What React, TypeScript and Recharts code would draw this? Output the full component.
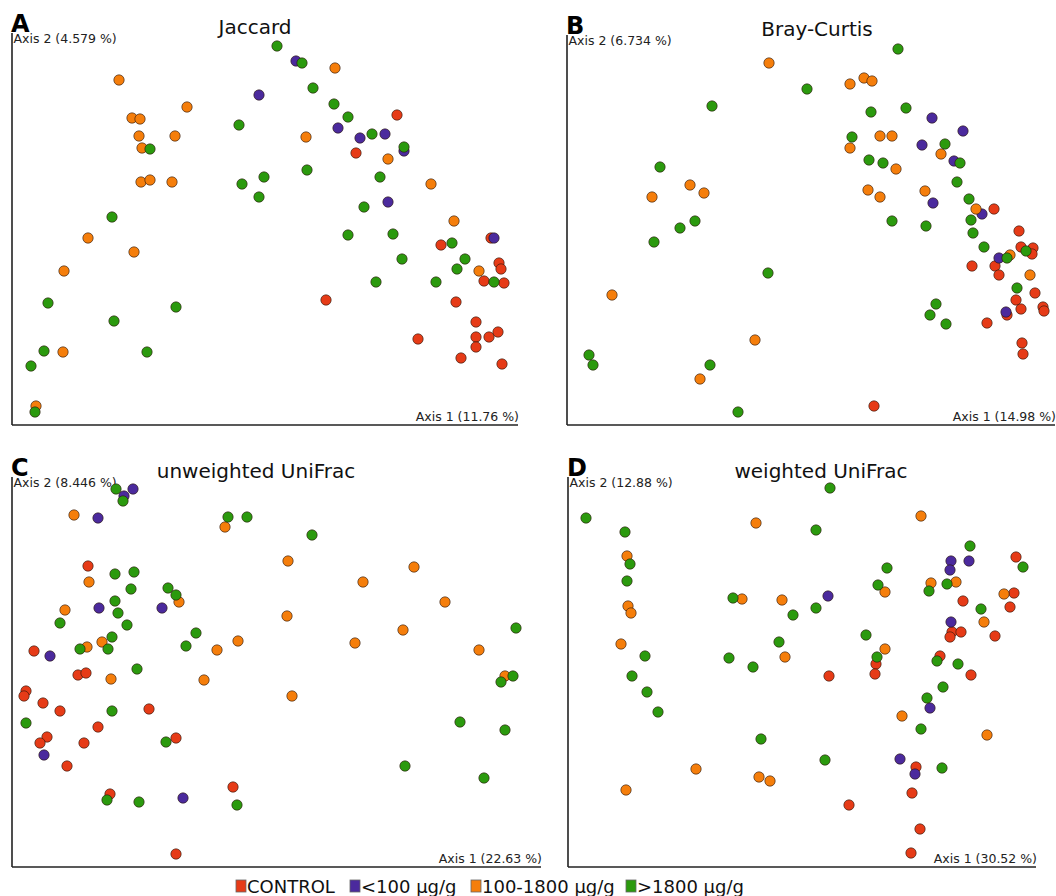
import { Scatter, ScatterChart, XAxis, YAxis } from "recharts"

// PCoA scores, in plot units (origin at the axes corner)
const jaccardControl = [[385,310],[344,272],[429,180],[479,187],[487,162],[489,156],[472,144],[492,142],[314,125],[444,123],[464,103],[486,93],[464,88],[477,88],[406,86],[464,78],[449,67],[490,61]]
const jaccardLow = [[247,330],[284,364],[326,297],[348,287],[373,291],[392,274],[376,223],[482,187]]
const jaccardMid = [[107,345],[175,318],[120,307],[128,306],[127,289],[163,289],[130,277],[129,243],[138,245],[160,243],[76,187],[122,173],[52,154],[51,73],[24,19],[323,357],[294,288],[376,266],[419,241],[442,204],[467,154]]
const jaccardHigh = [[138,276],[227,300],[252,248],[230,241],[247,228],[100,208],[36,122],[164,118],[102,104],[32,74],[135,73],[19,59],[23,13],[265,379],[290,362],[301,337],[322,321],[336,308],[360,291],[392,278],[295,255],[368,248],[352,218],[336,190],[381,191],[390,166],[364,143],[424,143],[440,182],[453,166],[445,156],[482,143]]

const brayControl = [[427,216],[452,194],[454,178],[466,177],[465,171],[405,159],[428,159],[432,150],[468,132],[449,125],[454,116],[476,118],[477,114],[440,110],[420,102],[455,82],[456,71],[307,19]]
const brayLow = [[365,307],[396,294],[355,280],[387,264],[366,222],[415,211],[432,167],[439,113]]
const brayMid = [[202,362],[123,240],[137,232],[85,228],[45,130],[188,85],[133,46],[283,341],[297,347],[305,344],[313,289],[325,289],[283,277],[329,256],[374,271],[301,235],[313,228],[358,234],[409,216],[443,170],[463,150]]
const brayHigh = [[240,336],[145,319],[93,258],[128,204],[113,197],[87,183],[201,152],[22,70],[26,60],[143,60],[171,13],[331,376],[304,313],[339,317],[285,288],[378,281],[302,265],[316,262],[393,262],[390,243],[402,226],[404,205],[325,204],[359,199],[406,192],[417,178],[459,174],[440,167],[450,137],[369,121],[363,110],[379,101]]

const unweightedControl = [[76,301],[22,216],[66,192],[74,194],[14,176],[12,171],[31,164],[48,156],[137,158],[86,140],[35,130],[28,124],[72,124],[164,129],[55,101],[98,73],[221,80],[164,13]]
const unweightedLow = [[121,378],[112,371],[86,349],[87,259],[150,259],[38,211],[32,112],[171,69]]
const unweightedMid = [[62,352],[213,340],[77,285],[53,257],[167,265],[75,220],[90,225],[205,217],[226,226],[99,188],[192,187],[276,306],[402,300],[351,285],[433,265],[275,251],[391,237],[343,224],[467,217],[493,191],[280,171]]
const unweightedHigh = [[104,378],[111,366],[216,350],[235,350],[103,293],[122,295],[119,278],[156,279],[164,272],[103,266],[106,254],[115,242],[48,244],[100,230],[184,234],[174,221],[68,218],[96,218],[125,198],[100,156],[14,144],[154,125],[95,67],[127,65],[225,62],[300,332],[504,239],[501,191],[489,185],[448,145],[493,137],[393,101],[472,89]]

const weightedControl = [[448,310],[446,274],[395,266],[442,260],[384,235],[393,235],[382,230],[427,231],[372,211],[308,203],[307,193],[261,191],[403,192],[348,100],[344,74],[281,62],[352,38],[343,14]]
const weightedLow = [[383,306],[401,306],[382,297],[260,271],[383,245],[362,159],[332,108],[347,93]]
const weightedMid = [[188,344],[59,311],[60,261],[63,254],[174,268],[214,267],[53,223],[217,210],[128,98],[191,90],[202,86],[58,77],[353,351],[363,284],[388,285],[317,275],[436,273],[416,245],[317,218],[334,151],[419,132]]
const weightedHigh = [[18,349],[57,335],[62,303],[59,286],[165,269],[225,252],[211,225],[77,211],[161,209],[185,200],[64,191],[79,175],[90,155],[193,128],[262,379],[248,337],[402,321],[455,300],[319,299],[310,282],[379,283],[361,276],[248,259],[413,258],[298,232],[309,210],[369,206],[390,203],[375,180],[359,169],[353,138],[257,107],[374,99]]

const groups = ["CONTROL", "<100 µg/g", "100-1800 µg/g", ">1800 µg/g"]
const colors = ["#e63b17", "#4b2a9d", "#f57e0b", "#2b9a0e"]

const FONT = "'DejaVu Sans', Verdana, sans-serif"
const PAD = 10

const panels = [
  { letter: "A", title: "Jaccard", axis1: "Axis 1 (11.76 %)", axis2: "Axis 2 (4.579 %)", left: 12, top: 33, right: 518, bottom: 425, titleX: 255, series: [jaccardControl, jaccardLow, jaccardMid, jaccardHigh] },
  { letter: "B", title: "Bray-Curtis", axis1: "Axis 1 (14.98 %)", axis2: "Axis 2 (6.734 %)", left: 567, top: 35, right: 1055, bottom: 425, titleX: 817, series: [brayControl, brayLow, brayMid, brayHigh] },
  { letter: "C", title: "unweighted UniFrac", axis1: "Axis 1 (22.63 %)", axis2: "Axis 2 (8.446 %)", left: 12, top: 477, right: 541, bottom: 867, titleX: 256, series: [unweightedControl, unweightedLow, unweightedMid, unweightedHigh] },
  { letter: "D", title: "weighted UniFrac", axis1: "Axis 1 (30.52 %)", axis2: "Axis 2 (12.88 %)", left: 568, top: 477, right: 1036, bottom: 867, titleX: 821, series: [weightedControl, weightedLow, weightedMid, weightedHigh] },
]

const toPoints = (rows: number[][]) => rows.map(([x, y]) => ({ x, y }))

const dot = (color: string) => (props: any) => (
  <circle cx={props.cx} cy={props.cy} r={5.2} fill={color} stroke="rgba(40,20,10,0.6)" strokeWidth={1} />
)

function Panel({ p }: { p: (typeof panels)[number] }) {
  const w = p.right - p.left
  const h = p.bottom - p.top
  const axisLine = { stroke: "#222", strokeWidth: 1.6 }
  return (
    <div style={{ position: "absolute", left: p.left - PAD, top: p.top - PAD }}>
      <ScatterChart width={w + PAD * 2} height={h + PAD * 2} margin={{ top: PAD, right: PAD, bottom: PAD - 2, left: PAD - 2 }}>
        <XAxis type="number" dataKey="x" domain={[0, w]} allowDataOverflow height={2} tick={false} tickLine={false} axisLine={axisLine} />
        <YAxis type="number" dataKey="y" domain={[0, h]} allowDataOverflow width={2} tick={false} tickLine={false} axisLine={axisLine} />
        {p.series.map((s, i) => (
          <Scatter key={groups[i]} name={groups[i]} data={toPoints(s)} isAnimationActive={false} shape={dot(colors[i])} />
        ))}
      </ScatterChart>
    </div>
  )
}

const legendX = [236, 350, 471, 626]

export default function App() {
  return (
    <div style={{ position: "absolute", left: 0, top: 0, width: 1056, height: 896, overflow: "hidden", background: "#fff" }}>
      <svg width={1056} height={896} style={{ position: "absolute", left: 0, top: 0 }} fontFamily={FONT}>
        {panels.map((p) => (
          <g key={p.letter}>
            <text x={p.left - 1} y={p.top - 1} fontSize={24} fontWeight="bold" fill="#000">{p.letter}</text>
            <text x={p.titleX} y={p.top + 1} fontSize={20} textAnchor="middle" fill="#111">{p.title}</text>
            <text x={p.left + 1.5} y={p.top + 9.5} fontSize={12.5} fill="#222">{p.axis2}</text>
            <text x={p.right + 1} y={p.bottom - 4.5} fontSize={12.5} textAnchor="end" fill="#222">{p.axis1}</text>
          </g>
        ))}
        {groups.map((g, i) => (
          <g key={g}>
            <rect x={legendX[i]} y={880} width={10} height={12} fill={colors[i]} stroke="#666" strokeWidth={0.8} />
            <text x={legendX[i] + 11} y={892.5} fontSize={18} fill="#111">{g}</text>
          </g>
        ))}
      </svg>
      {panels.map((p) => (
        <Panel key={p.letter} p={p} />
      ))}
    </div>
  )
}
